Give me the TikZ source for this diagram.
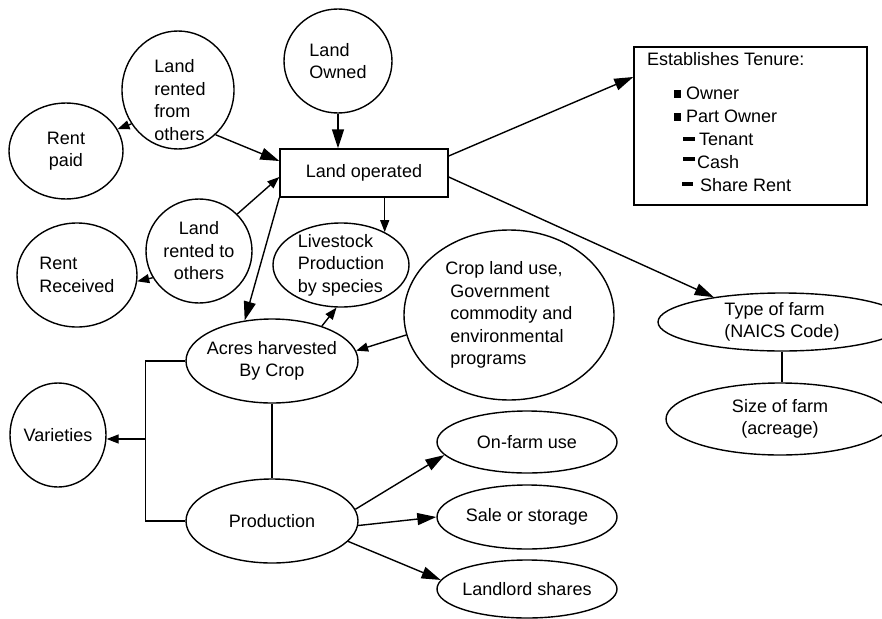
\documentclass[tikz,border=0pt]{standalone}
\usepackage{fontspec}
\setmainfont{Liberation Sans}
\usetikzlibrary{shapes.geometric,arrows.meta,calc}
\begin{document}
\begin{tikzpicture}[x=1pt,y=-1pt,
  every node/.style={font=\fontsize{18}{22.5}\selectfont},
  oval/.style={draw, ellipse, line width=1.4pt, inner sep=-25pt},
  box/.style={draw, rectangle, line width=1.4pt, inner sep=0pt},
  con/.style={line width=1.4pt},
  bigarr/.style={con, -{Triangle[length=19pt,width=12pt]}},
  smallarr/.style={con, -{Triangle[length=12pt,width=9pt]}},
]
\useasboundingbox (0,0) rectangle (882,618);

% nodes
\node[oval, minimum width=108pt, minimum height=104pt, align=left] (lo) at (338,61) {Land\\Owned};
\node[oval, minimum width=112pt, minimum height=118pt,
  label={[align=left,yshift=-10pt,xshift=2pt]center:{Land\\rented\\from\\others}}] (lrf) at (178,90) {};
\node[oval, minimum width=114pt, minimum height=96pt, align=center] (rp) at (66,151) {Rent\\paid};
\node[box, minimum width=168pt, minimum height=48pt] (lop) at (364,173) {Land operated};
\node[oval, minimum width=106pt, minimum height=104pt, align=center] (lrt) at (199,251) {Land\\rented to\\others};
\node[oval, minimum width=120pt, minimum height=104pt, align=left] (rr) at (77,275) {Rent\\Received};
\node[oval, minimum width=136pt, minimum height=84pt, align=left] (ls) at (341,265) {Livestock\\Production\\by species};
\node[oval, minimum width=210pt, minimum height=170pt, align=left] (crop) at (509,315)
  {Crop land use,\\\hspace*{5pt}Government\\\hspace*{5pt}commodity and\\\hspace*{5pt}environmental\\\hspace*{5pt}programs};
\node[oval, minimum width=172pt, minimum height=84pt, align=center] (acres) at (272,361) {Acres harvested\\By Crop};
\node[oval, minimum width=96pt, minimum height=104pt] (var) at (58,435) {Varieties};
\node[oval, minimum width=172pt, minimum height=84pt] (prod) at (272,521) {Production};
\node[oval, minimum width=180pt, minimum height=62pt] (onf) at (527,442) {On-farm use};
\node[oval, minimum width=180pt, minimum height=64pt] (sale) at (527,517) {Sale or storage};
\node[oval, minimum width=180pt, minimum height=58pt] (land) at (527,589) {Landlord shares};
\node[oval, minimum width=248pt, minimum height=58pt, align=left] (type) at (782,322) {Type of farm\\(NAICS Code)};
\node[oval, minimum width=228pt, minimum height=72pt, align=center] (size) at (780,419) {Size of farm\\(acreage)};
\node[box, minimum width=233pt, minimum height=158pt] (ten) at (750.5,126) {};
\node[anchor=north west, inner sep=0pt, align=left, font=\fontsize{18}{23}\selectfont] (tenT) at (647,52)
  {Establishes Tenure:\\[11pt]
   \hspace*{27pt}\rule[1pt]{7pt}{8pt}\hspace*{5pt}Owner\\
   \hspace*{27pt}\rule[1pt]{7pt}{8pt}\hspace*{5pt}Part Owner\\
   \hspace*{36pt}\rule[4pt]{12pt}{4pt}\hspace*{4pt}Tenant\\
   \hspace*{36pt}\rule[7pt]{12pt}{4pt}\hspace*{2pt}Cash\\
   \hspace*{35pt}\rule[5pt]{11pt}{4pt}\hspace*{7pt}Share Rent};

% connectors
\draw[bigarr] (lo) -- (lo |- lop.north);
\draw[bigarr] (lrf.-50) -- ([yshift=12pt]lop.west);
\draw[smallarr] (lrf.216) -- (rp.23);
\draw[smallarr] (lrt.44) -- ([yshift=-4pt]lop.west);
\draw[smallarr] (lrt.210) -- (rr.-6);
\draw[bigarr] (lop.south west) -- (acres.124);
\draw[smallarr] (ls.37 |- lop.south) -- (ls.37);
\draw[smallarr] (acres.35) -- (ls.-96);
\draw[smallarr] (crop.191) -- (acres.7);
\draw[bigarr] ([yshift=17pt]lop.east) -- ([yshift=49pt]ten.west);
\draw[bigarr] ([yshift=-4pt]lop.east) -- (type.160);
\draw[con] (type) -- (type |- size.north);
\draw[con] (acres) -- (prod);
\draw[con] (acres.west) -- ++(-40,0) |- (prod.west);
\coordinate (br) at (146,439);
\draw[smallarr] (br) -- (br -| var.east);
\draw[bigarr] (prod.8) -- (onf.189);
\draw[bigarr] (prod.-3) -- (sale.west);
\draw[bigarr] (prod.-15) -- (land.174);
\end{tikzpicture}
\end{document}
